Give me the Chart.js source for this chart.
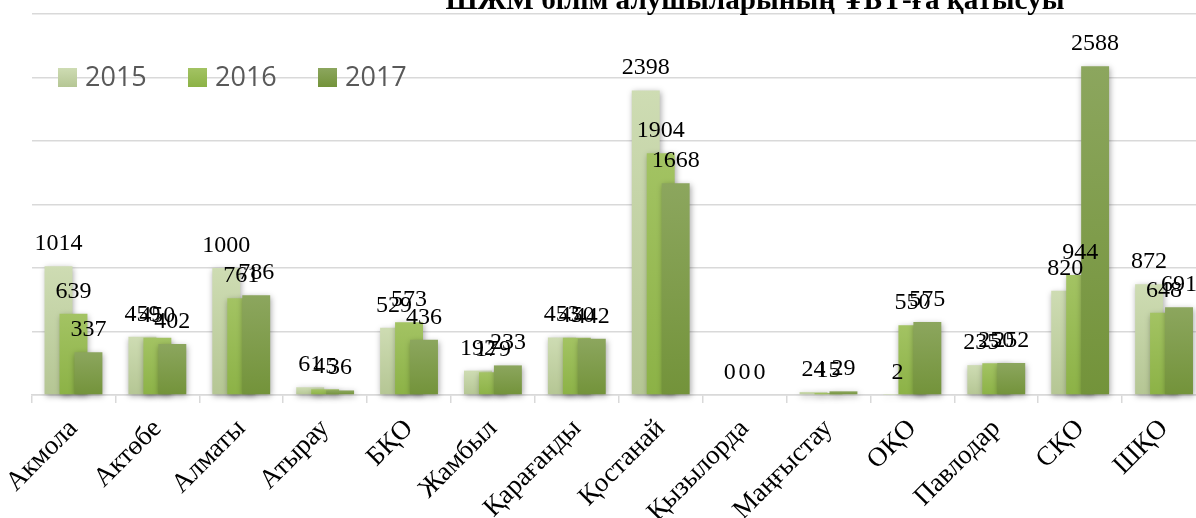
<!DOCTYPE html>
<html>
<head>
<meta charset="utf-8">
<title>ШЖМ білім алушыларының ҰБТ-ға қатысуы</title>
<script src="https://cdn.jsdelivr.net/npm/chart.js@4/dist/chart.umd.min.js"></script>
<style>
    html, body { margin: 0; padding: 0; overflow: hidden; background: #fff; }
    #wrap { width: 1196px; height: 518px; overflow: hidden; }
</style>
</head>
<body>
<div id="wrap"><canvas id="ubtChart" width="1206" height="518"></canvas></div>
<script>
const chartTitle = "ШЖМ білім алушыларының ҰБТ-ға қатысуы";
const regions = ["Акмола", "Актөбе", "Алматы", "Атырау", "БҚО", "Жамбыл", "Қарағанды",
    "Қостанай", "Қызылорда", "Маңғыстау", "ОҚО", "Павлодар", "СҚО", "ШҚО"];
const years = ["2015", "2016", "2017"];
const values2015 = [1014, 459, 1000, 61, 529, 192, 453, 2398, 0, 24, 2, 235, 820, 872];
const values2016 = [639, 450, 761, 45, 573, 179, 450, 1904, 0, 15, 550, 250, 944, 648];
const values2017 = [337, 402, 786, 36, 436, 233, 442, 1668, 0, 29, 575, 252, 2588, 691];
const yTicks = { min: 0, max: 3000, step: 500 };

// gradient top / bottom per series
const seriesColors = [
    ["#cedcb3", "#b5c694"],
    ["#a3c363", "#8cb246"],
    ["#8ca65e", "#73933a"],
];

const serif = '"Liberation Serif", "Times New Roman", serif';

function barFill(i) {
    return (context) => {
        const chart = context.chart;
        const { ctx, chartArea, scales } = chart;
        if (!chartArea || context.type !== "data" || !scales.y) return seriesColors[i][0];
        const top = scales.y.getPixelForValue(context.raw);
        const bottom = scales.y.getPixelForValue(0);
        if (bottom - top < 1) return seriesColors[i][0];
        const g = ctx.createLinearGradient(0, top, 0, bottom);
        g.addColorStop(0, seriesColors[i][0]);
        g.addColorStop(1, seriesColors[i][1]);
        return g;
    };
}

// Chart.js paints the last dataset first; here 2015 goes first so 2016 and 2017
// overlap it to the right, as in the Excel original. Each bar gets a soft shadow.
const overlapOrder = {
    id: "overlapOrder",
    beforeDatasetsDraw(chart) {
        const ctx = chart.ctx;
        chart.data.datasets.forEach((ds, i) => {
            const meta = chart.getDatasetMeta(i);
            if (!meta.visible) return;
            ctx.save();
            ctx.shadowColor = "rgba(0, 0, 0, 0.35)";
            ctx.shadowBlur = 6;
            ctx.shadowOffsetX = 1;
            ctx.shadowOffsetY = 2;
            meta.controller.draw();
            ctx.restore();
        });
        return false;
    },
};

const valueLabels = {
    id: "valueLabels",
    afterDraw(chart) {
        const ctx = chart.ctx;
        ctx.save();
        ctx.font = "24px " + serif;
        ctx.fillStyle = "#000";
        ctx.textAlign = "center";
        ctx.textBaseline = "alphabetic";
        chart.data.datasets.forEach((ds, i) => {
            chart.getDatasetMeta(i).data.forEach((bar, j) => {
                ctx.fillText(String(ds.data[j]), bar.x, bar.y - 16);
            });
        });
        ctx.restore();
    },
};

const titleAndLegend = {
    id: "titleAndLegend",
    afterDraw(chart) {
        const ctx = chart.ctx;
        ctx.save();

        // title (cut off at the top like the original)
        ctx.font = "bold 30px " + serif;
        const w = ctx.measureText(chartTitle).width;
        const size = 30 * 620 / w;
        ctx.font = "bold " + size.toFixed(1) + "px " + serif;
        ctx.fillStyle = "#000";
        ctx.textAlign = "center";
        ctx.textBaseline = "alphabetic";
        ctx.fillText(chartTitle, 755, 9);

        // legend
        ctx.font = '27px "Open Sans", sans-serif';
        ctx.textAlign = "left";
        years.forEach((year, i) => {
            const x = 58 + i * 130;
            const g = ctx.createLinearGradient(0, 68, 0, 87);
            g.addColorStop(0, seriesColors[i][0]);
            g.addColorStop(1, seriesColors[i][1]);
            ctx.fillStyle = g;
            ctx.fillRect(x, 68, 19, 19);
            ctx.fillStyle = "#595959";
            ctx.fillText(year, x + 27, 86);
        });
        ctx.restore();
    },
};

document.addEventListener("DOMContentLoaded", () => {
    const canvas = document.getElementById("ubtChart");
    if (!canvas) return;

    const allValues = [values2015, values2016, values2017];

    new Chart(canvas, {
        type: "bar",
        data: {
            labels: regions,
            datasets: years.map((year, i) => ({
                label: year,
                data: allValues[i],
                backgroundColor: barFill(i),
                borderWidth: 0,
                categoryPercentage: 0.535,
                barPercentage: 1.867,
            })),
        },
        options: {
            responsive: false,
            animation: false,
            layout: { padding: { left: 29, top: 14, right: 0, bottom: 0 } },
            plugins: {
                legend: { display: false },
                title: { display: false },
                tooltip: { enabled: false },
            },
            scales: {
                x: {
                    offset: true,
                    grid: {
                        offset: true,
                        drawOnChartArea: false,
                        tickLength: 8,
                        color: "#d9d9d9",
                        lineWidth: 1.5,
                    },
                    border: { display: true, color: "#d9d9d9", width: 1.5 },
                    ticks: {
                        autoSkip: false,
                        minRotation: 45,
                        maxRotation: 45,
                        padding: 10,
                        color: "#000",
                        font: { family: serif, size: 27 },
                    },
                    afterFit(scale) { scale.height = 123; },
                },
                y: {
                    min: yTicks.min,
                    max: yTicks.max,
                    grid: { color: "#d9d9d9", lineWidth: 1.5, drawTicks: false },
                    border: { display: false },
                    ticks: { display: false, stepSize: yTicks.step },
                    afterFit(scale) { scale.width = 0; },
                },
            },
        },
        plugins: [overlapOrder, valueLabels, titleAndLegend],
    });
});
</script>
</body>
</html>
